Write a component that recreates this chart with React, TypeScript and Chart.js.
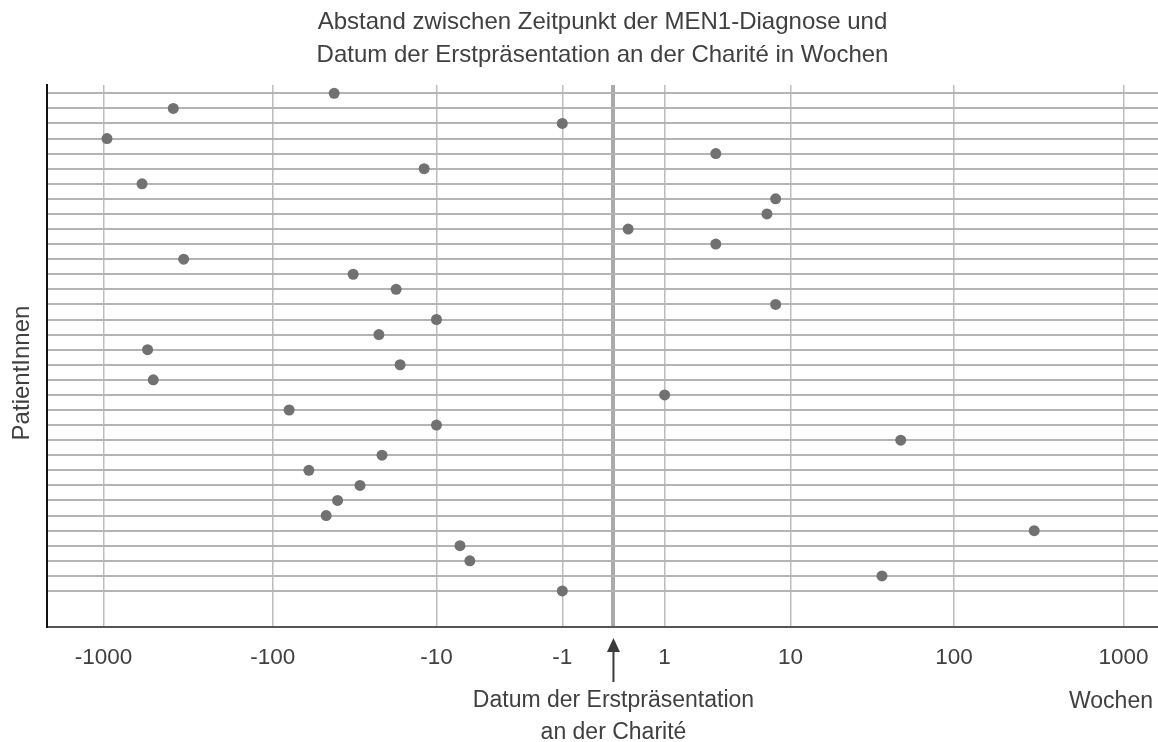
import { useEffect, useRef } from "react";
import { Chart, registerables } from "chart.js";

Chart.register(...registerables);

// Weeks between MEN1 diagnosis and first presentation at Charité, one value per patient (top to bottom)
const weeksFromDiagnosis: number[] = [
  -43, -388, -1, -954, 3, -12, -593, 8, 7, 0.22, 3, -337, -33, -18, 8, -10, -23,
  -550, -17, -509, 1, -80, -10, 48, -22, -61, -30, -41, -48, 298, -7, -6, 37, -1,
];
const tickWeeks: number[] = [-1000, -100, -10, -1, 0, 1, 10, 100, 1000];
const tickLabels: string[] = ["-1000", "-100", "-10", "-1", "", "1", "10", "100", "1000"];
const titleLines: string[] = [
  "Abstand zwischen Zeitpunkt der MEN1-Diagnose und",
  "Datum der Erstpräsentation an der Charité in Wochen",
];
const yAxisTitle = "PatientInnen";
const xAxisTitle = "Wochen";
const zeroLineLabel: string[] = ["Datum der Erstpräsentation", "an der Charité"];

const FONT = "'Liberation Sans', Arial, Helvetica, sans-serif";
const TEXT = "#404040";

// symmetric log transform: sign(v) * log10(|v| + 1)
const tf = (v: number) => Math.sign(v) * Math.log10(Math.abs(v) + 1);

const annotations = {
  id: "annotations",
  afterDraw(chart: any) {
    const { ctx, chartArea } = chart;
    const xs = chart.scales.x;
    const x0 = xs.getPixelForValue(0);
    const b = chartArea.bottom;
    ctx.save();
    ctx.fillStyle = "#3a3a3a";
    ctx.strokeStyle = "#3a3a3a";
    ctx.lineWidth = 2;
    ctx.beginPath();
    ctx.moveTo(x0, b + 55);
    ctx.lineTo(x0, b + 22);
    ctx.stroke();
    ctx.beginPath();
    ctx.moveTo(x0, b + 11);
    ctx.lineTo(x0 - 6.5, b + 25);
    ctx.lineTo(x0 + 6.5, b + 25);
    ctx.closePath();
    ctx.fill();

    ctx.fillStyle = TEXT;
    ctx.font = `23px ${FONT}`;
    ctx.textAlign = "center";
    ctx.textBaseline = "alphabetic";
    ctx.fillText(zeroLineLabel[0], x0, b + 80);
    ctx.fillText(zeroLineLabel[1], x0, b + 112);
    ctx.fillText(xAxisTitle, 1111, b + 81);

    ctx.font = `24px ${FONT}`;
    ctx.translate(29, 373);
    ctx.rotate(-Math.PI / 2);
    ctx.fillText(yAxisTitle, 0, 0);
    ctx.restore();
  },
};

export default function App() {
  const ref = useRef<HTMLCanvasElement | null>(null);

  useEffect(() => {
    if (!ref.current) return;
    const points = weeksFromDiagnosis.map((w, i) => ({ x: tf(w), y: i }));
    const chart = new Chart(ref.current, {
      type: "scatter",
      data: {
        datasets: [
          {
            data: points,
            backgroundColor: "#717171",
            borderWidth: 0,
            pointRadius: 5.5,
            pointHoverRadius: 5.5,
          },
        ],
      },
      options: {
        animation: false,
        responsive: false,
        layout: { padding: 0, autoPadding: false },
        plugins: {
          legend: { display: false },
          tooltip: { enabled: false },
          title: {
            display: true,
            text: titleLines,
            fullSize: false,
            color: TEXT,
            font: { family: FONT, size: 24, weight: "normal", lineHeight: 1.375 },
            padding: { top: 5.5, bottom: 13.5 },
          },
        },
        scales: {
          x: {
            type: "linear",
            min: -3.333,
            max: 3.204,
            afterBuildTicks: (scale: any) => {
              scale.ticks = tickWeeks.map((w) => ({ value: tf(w) }));
            },
            afterFit: (scale: any) => {
              scale.height = 115;
            },
            ticks: {
              autoSkip: false,
              maxRotation: 0,
              padding: 0,
              color: TEXT,
              font: { family: FONT, size: 22.5 },
              callback: (_v: any, i: number) => tickLabels[i],
            },
            grid: {
              drawTicks: true,
              tickLength: 17,
              tickColor: "rgba(0,0,0,0)",
              color: (c: any) => (c.tick && c.tick.value === 0 ? "#aaaaaa" : "#bdbdbd"),
              lineWidth: (c: any) => (c.tick && c.tick.value === 0 ? 4 : 1.5),
            },
            border: { display: true, color: "#555555", width: 2 },
          },
          y: {
            type: "linear",
            reverse: true,
            min: -0.55,
            max: 35.39,
            afterBuildTicks: (scale: any) => {
              scale.ticks = weeksFromDiagnosis.map((_w, i) => ({ value: i }));
            },
            afterFit: (scale: any) => {
              scale.width = 47;
            },
            ticks: { display: false },
            grid: { drawTicks: false, color: "#b4b4b4", lineWidth: 2 },
            border: { display: true, color: "#111111", width: 2 },
          },
        },
      },
      plugins: [annotations],
    });
    return () => chart.destroy();
  }, []);

  return (
    <div style={{ position: "fixed", left: 0, top: 0, width: 1158, height: 742, background: "#fff" }}>
      <canvas ref={ref} width={1158} height={742} style={{ display: "block" }} />
    </div>
  );
}
